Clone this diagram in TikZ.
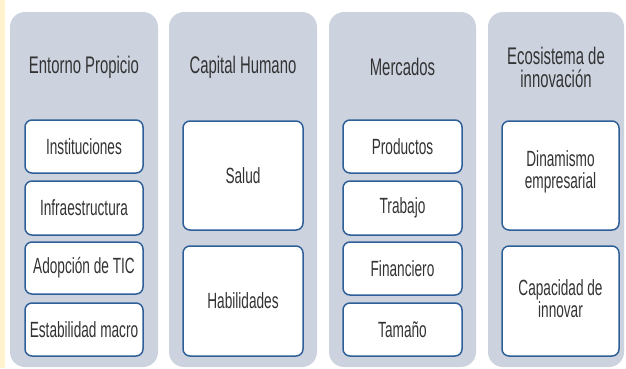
\documentclass[tikz,border=0pt]{standalone}
\usepackage{fontspec}
\setmainfont{Liberation Sans}[FakeStretch=0.62]
\definecolor{cream}{HTML}{FFF2CC}
\definecolor{panelfill}{HTML}{CCD3DF}
\definecolor{boxline}{HTML}{2F5F98}
\definecolor{txt}{HTML}{333333}
\tikzset{
  panel/.style={fill=panelfill, draw=none, rounded corners=15pt},
  titletext/.style={text=txt, font=\fontsize{24}{23}\selectfont, align=center, inner sep=0pt},
  itembox/.style={draw=boxline, line width=1.5pt, fill=white, rounded corners=7pt},
  itemtext/.style={text=txt, font=\fontsize{22}{22}\selectfont, align=center, inner sep=0pt},
}
\begin{document}
\begin{tikzpicture}[x=1pt,y=-1pt]
\useasboundingbox (0,0) rectangle (626,368);
\fill[cream] (0,0) rectangle (5,368);
% panels
\fill[panel] (10,12) rectangle (158,367);
\fill[panel] (169,12) rectangle (317,367);
\fill[panel] (329,12) rectangle (476,367);
\fill[panel] (488,12) rectangle (624,367);
% titles
\node[titletext] (t1) at (84,67) {Entorno Propicio};
\node[titletext] (t2) at (243,67) {Capital Humano};
\node[titletext] (t3) at (402.5,67) {Mercados};
\node[titletext] (t4) at (556,67) {Ecosistema de\\innovación};
% panel 1 boxes
\draw[itembox] (25,120) rectangle (143,173);
\node[itemtext] (a1) at (84,146.5) {Instituciones};
\draw[itembox] (25,181) rectangle (143,235);
\node[itemtext] (a2) at (84,208) {Infraestructura};
\draw[itembox] (25,242) rectangle (143,294);
\node[itemtext] (a3) at (84,268) {Adopción de TIC};
\draw[itembox] (25,303) rectangle (143,356);
\node[itemtext] (a4) at (84,329.5) {Estabilidad macro};
% panel 2 boxes
\draw[itembox] (183,121) rectangle (303,230);
\node[itemtext] (b1) at (243,175.5) {Salud};
\draw[itembox] (183,246) rectangle (303,356);
\node[itemtext] (b2) at (243,301) {Habilidades};
% panel 3 boxes
\draw[itembox] (343,120) rectangle (462,173);
\node[itemtext] (c1) at (402.5,146.5) {Productos};
\draw[itembox] (343,181) rectangle (462,235);
\node[itemtext] (c2) at (402.5,208) {Trabajo};
\draw[itembox] (343,242) rectangle (462,295);
\node[itemtext] (c3) at (402.5,268.5) {Financiero};
\draw[itembox] (343,303) rectangle (462,356);
\node[itemtext] (c4) at (402.5,329.5) {Tamaño};
% panel 4 boxes
\draw[itembox] (502,121) rectangle (619,230);
\node[itemtext] (d1) at (560.5,172) {Dinamismo\\empresarial};
\draw[itembox] (502,246) rectangle (619,356);
\node[itemtext] (d2) at (560.5,299) {Capacidad de\\innovar};
\end{tikzpicture}
\end{document}
